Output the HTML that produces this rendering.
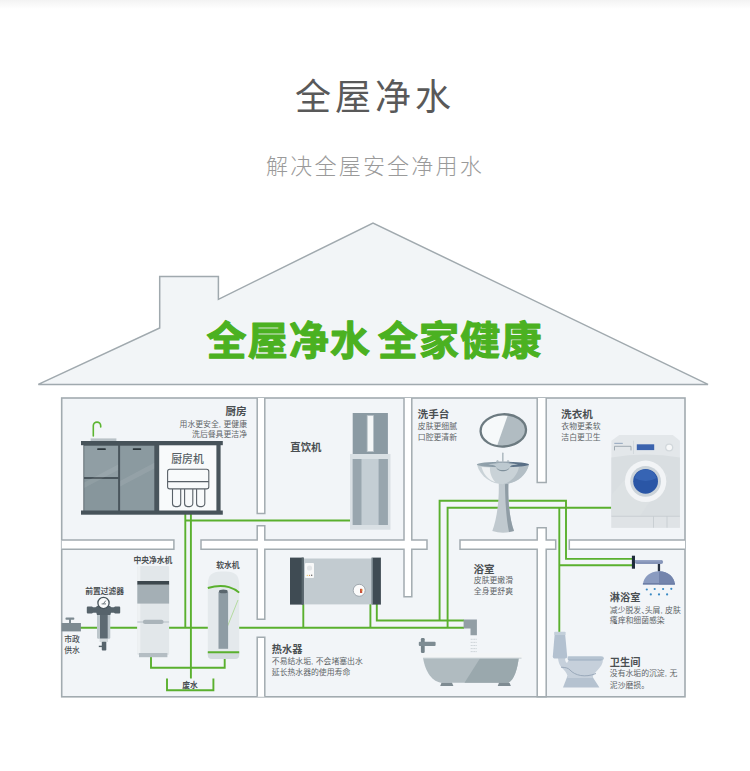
<!DOCTYPE html>
<html lang="zh-CN">
<head>
<meta charset="utf-8">
<title>全屋净水</title>
<style>
html,body{margin:0;padding:0;background:#fff;}
body{width:750px;height:771px;overflow:hidden;position:relative;font-family:"Liberation Sans","Noto Sans CJK SC",sans-serif;}
svg{position:absolute;left:0;top:0;display:block;}
text{font-family:"Liberation Sans","Noto Sans CJK SC",sans-serif;}
.h{font-weight:700;font-size:10.2px;fill:#4a4f52;}
.s{font-weight:400;font-size:7.85px;fill:#5f6568;}
.m{font-weight:500;font-size:7.8px;fill:#4a4f52;}
.b{font-weight:700;font-size:7.8px;fill:#4a4f52;}
.g{fill:none;stroke:#5ab02e;stroke-width:1.9;}
.w{fill:#fff;stroke:#a2abb0;stroke-width:1.5;}
</style>
</head>
<body>
<svg width="750" height="771" viewBox="0 0 750 771">
<defs>
<linearGradient id="topg" x1="0" y1="0" x2="0" y2="1"><stop offset="0" stop-color="#f3f3f3"/><stop offset="1" stop-color="#ffffff"/></linearGradient>
</defs>
<rect x="0" y="0" width="750" height="9" fill="url(#topg)"/>

<!-- headings -->
<text x="373" y="109.7" text-anchor="middle" font-size="36" font-weight="400" fill="#595959" letter-spacing="4" dx="2">全屋净水</text>
<text x="374" y="173.7" text-anchor="middle" font-size="22" font-weight="300" fill="#9a9a9a" letter-spacing="2.2" dx="1">解决全屋安全净用水</text>

<!-- roof -->
<path d="M38.3 384.4 L159.7 328 V276.4 H218.4 V299.3 L373 223 L708 384.4 Z" fill="#f2f5f7" stroke="#a0a9ae" stroke-width="1.5" stroke-linejoin="miter"/>
<text x="206.5" y="355" font-size="40" font-weight="700" fill="#4bb121" stroke="#4bb121" stroke-width="1.1" stroke-linejoin="round" letter-spacing="1.2">全屋净水</text>
<text x="377.8" y="355" font-size="40" font-weight="700" fill="#4bb121" stroke="#4bb121" stroke-width="1.1" stroke-linejoin="round" letter-spacing="1.2">全家健康</text>

<!-- house body -->
<rect x="61.7" y="398" width="623.3" height="298.8" fill="#f2f5f8" stroke="#a2abb0" stroke-width="1.6"/>

<!-- walls -->
<g class="w">
<path d="M257.2 398 V513.5 H264.8 V398"/>
<path d="M537.2 398 V482.6 H546.2 V398"/>
<path d="M61.7 540.1 H173.9 V549.2 H61.7"/>
<path d="M404 398 V540.1 H264.8 V525.8 H257.2 V540.1 H201 V549.2 H257.2 V619.3 H264.8 V549.2 H404 V596.8 H411.8 V549.2 H427 V540.1 H411.8 V398"/>
<path d="M460 540.1 H537.2 V527.7 H546.2 V540.1 H555.7 V549.2 H546.2 V696.8 H537.2 V549.2 H460 Z"/>
<path d="M685 540.1 H569.3 V549.2 H685"/>
<path d="M257.2 696.8 V637.3 H264.8 V696.8"/>
</g>

<!-- ===== green pipes (under devices) ===== -->
<g class="g">
<path d="M80 627.7 H464"/>
<path d="M185.3 514 V627.7"/>
<path d="M190.9 514 V678.5"/>
<path d="M185.3 520.5 H350"/>
<path d="M151 656 V667.7 H224.7 V658"/>
<path d="M167 678.6 V690.3 H213.4 V678.6"/>
<path d="M303.3 604 V627.7"/>
<path d="M370.4 604 V627.7"/>
<path d="M376.8 604 V620.5 H464"/>
<path d="M439.6 620.5 V500.8 H566 V558.9 H632"/>
<path d="M447.6 627.7 V507.7 H611.5"/>
<path d="M559.3 507.7 V632"/>
<path d="M559.3 565.3 H632"/>
</g>

<!-- ===== kitchen cabinet ===== -->
<g>
<rect x="90.6" y="438.4" width="25.8" height="3" fill="#b9c2c7"/>
<path d="M93.3 436 V425.8 a3.7 3.7 0 0 1 7.4 0 V427" fill="none" stroke="#5cb531" stroke-width="1.6" stroke-linecap="round"/>
<rect x="83.4" y="443" width="137.2" height="69" fill="#49555c"/>
<rect x="81" y="441" width="141.8" height="4.2" fill="#47535a"/>
<rect x="81" y="510.5" width="141.8" height="4.2" fill="#47535a"/>
<rect x="84.2" y="445.7" width="33.9" height="31.3" fill="#909ea4"/>
<rect x="84.2" y="479" width="33.9" height="31.5" fill="#87969c"/>
<rect x="120.1" y="445.7" width="34.2" height="64.8" fill="#8b9aa0"/>
<path d="M84.2 482.5 L118.1 464.5 V470 L84.2 488 Z M120.1 481 L154.3 462.8 V468.4 L120.1 486.6 Z" fill="#fff" opacity="0.08"/>
<rect x="97.2" y="448.2" width="8.6" height="1.9" rx="0.6" fill="#2b363b"/>
<rect x="132.8" y="448.2" width="8.4" height="1.9" rx="0.6" fill="#2b363b"/>
<rect x="159.2" y="445.3" width="57.2" height="65.2" fill="#f8fafb"/>
<!-- kitchen machine icon -->
<g fill="none" stroke="#596168" stroke-width="1.1">
<rect x="167.6" y="469.3" width="41.2" height="19.6" rx="2.2"/>
<path d="M167.6 481.6 H208.8"/>
<path d="M172.5 489 V503.6 a3 3 0 0 0 3 3 h2.2 a3 3 0 0 0 3 -3 V489"/>
<path d="M184.6 489 V503.6 a3 3 0 0 0 3 3 h2.2 a3 3 0 0 0 3 -3 V489"/>
<path d="M196.6 489 V503.6 a3 3 0 0 0 3 3 h2.2 a3 3 0 0 0 3 -3 V489"/>
</g>
<text x="171.3" y="463.4" font-size="10.8" font-weight="500" fill="#575f65">厨房机</text>
</g>
<text class="h" x="246.6" y="415.2" text-anchor="end" style="font-size:10.6px">厨房</text>
<text class="s" x="247" y="426.6" text-anchor="end">用水更安全,<tspan dx="2.5">更健康</tspan></text>
<text class="s" x="247" y="436.8" text-anchor="end">洗后餐具更洁净</text>

<!-- ===== direct drinking machine ===== -->
<g>
<rect x="350" y="454" width="40.5" height="75.7" fill="#d9e0e4"/>
<rect x="352.7" y="413" width="35.2" height="41" fill="#8b9aa3"/>
<rect x="367.2" y="415.6" width="6.2" height="36" fill="#f4f6f7" stroke="#b9c3c9" stroke-width="0.8"/>
<rect x="352.7" y="459" width="35.2" height="66" fill="#c4ced4"/>
<rect x="352.7" y="459" width="8.8" height="66" fill="#98a6ae"/>
<rect x="378.6" y="459" width="9.3" height="66" fill="#98a6ae"/>
</g>
<text x="290.3" y="451" font-size="10.4" font-weight="700" fill="#4a4f52">直饮机</text>

<!-- ===== wash basin ===== -->
<text class="h" x="417.6" y="418.4" style="font-size:10.6px">洗手台</text>
<text class="s" x="417.8" y="429.3">皮肤更细腻</text>
<text class="s" x="417.8" y="439.8">口腔更清新</text>
<g>
<g transform="rotate(-3 503.3 430.4)">
<ellipse cx="503.3" cy="430.4" rx="22.7" ry="16.1" fill="#f6f9fa"/>
<clipPath id="mir"><ellipse cx="503.3" cy="430.4" rx="22.7" ry="16.1"/></clipPath>
<path d="M510 412 L495.2 448 L530 448 L530 412 Z" fill="#b1bcc2" clip-path="url(#mir)"/>
<ellipse cx="503.3" cy="430.4" rx="22.7" ry="16.1" fill="none" stroke="#6c7a80" stroke-width="2.3"/>
</g>
<!-- pedestal -->
<path d="M498.6 478 C499.6 500 497 518 492.3 531 Q503 534.5 514 531 C509.5 518 507.5 500 508.6 478 Z" fill="#c0c9cf"/>
<path d="M504.8 478 C505.2 500 506 518 509 532 L514 531 C509.5 518 507.5 500 508.6 478 Z" fill="#8f9ca5"/>
<!-- bowl -->
<path d="M477 464.5 C480 477 492 484.2 503 484.2 C514 484.2 526 477 529 464.5 Z" fill="#c9d2d7"/>
<path d="M503 484.2 C514 484.2 526 477 529 464.5 L519 467 C517 476 511 482 503 484.2 Z" fill="#b3bec5"/>
<path d="M481.5 467 C484 475.5 489 480 495.5 482.3 C491 477.5 489.5 471 490 467.5 Z" fill="#eef1f3"/>
<linearGradient id="bt" x1="0" y1="0" x2="1" y2="0"><stop offset="0" stop-color="#94a4ad"/><stop offset="0.55" stop-color="#8496a3"/><stop offset="0.7" stop-color="#5d7389"/><stop offset="1" stop-color="#566c84"/></linearGradient>
<ellipse cx="502.9" cy="464.5" rx="26.1" ry="2.7" fill="url(#bt)"/>
<path d="M488 464.8 C493 464.2 495.3 465.2 496.3 467.2 C498 471 508 471 509.7 467.2 C510.7 465.2 513 464.4 518 464.8 C516 463.6 508 463 503 463 C498 463 490 463.6 488 464.8 Z" fill="#bdc9d0"/>
<path d="M496.3 467.2 C498 471 508 471 509.7 467.2 C508.6 472.6 497.4 472.6 496.3 467.2 Z" fill="#7f909b"/>
<rect x="502" y="452.6" width="1.6" height="9.8" rx="0.7" fill="#b1bcc3"/>
<path d="M496 462.6 Q496 460 497.6 460 Q498.6 460 498.8 461.6 H506.8 Q507 460 508 460 Q509.6 460 509.6 462.6 Z" fill="#b1bcc3"/>
</g>

<!-- ===== washing machine ===== -->
<text class="h" x="561.1" y="418.4" style="font-size:10.6px">洗衣机</text>
<text class="s" x="561.3" y="429.3">衣物更柔软</text>
<text class="s" x="561.3" y="439.8">洁白更卫生</text>
<g>
<path d="M611.4 440.7 L619.3 435 H672.8 L679.9 440.7 V527.7 H611.4 Z" fill="#e3e7ea"/>
<path d="M611.4 457.5 Q645.6 451.5 679.9 457.5 V516 H611.4 Z" fill="#d9dee1"/>
<path d="M611.4 495 L640 462 L668 475 L640 516 H611.4 Z" fill="#dde2e5" opacity="0.6"/>
<rect x="611.4" y="516.3" width="68.5" height="11.4" fill="#dfe3e6"/>
<path d="M611.4 516.3 H679.9 M653.5 516.3 V527.7 M667 516.3 V527.7" stroke="#c3cace" stroke-width="0.8" fill="none"/>
<path d="M633.5 440.7 V454" stroke="#cfd5d9" stroke-width="0.8"/>
<path d="M614.5 450.4 V446.3 H631 V450.4" fill="none" stroke="#98a4ac" stroke-width="0.9"/>
<rect x="614.3" y="442.8" width="8.5" height="1.2" fill="#9fb0c4"/>
<rect x="636.8" y="444.3" width="17.4" height="5.8" fill="#3b63ae"/>
<circle cx="669.2" cy="447.5" r="4.1" fill="#d2d8dc"/>
<circle cx="669.2" cy="447.5" r="2.8" fill="#f7f8f9"/>
<circle cx="645.6" cy="481.3" r="20.7" fill="#f2f4f6"/>
<circle cx="645.6" cy="481.3" r="15.4" fill="#cbd3d9"/>
<circle cx="645.6" cy="481.3" r="12.4" fill="#2a56a6"/>
<path d="M634.5 478 A11.5 11.5 0 0 1 656.7 478 Q645.6 484 634.5 478 Z" fill="#3a68b8" opacity="0.8"/>
</g>

<!-- ===== municipal tap ===== -->
<g fill="#7d8a91">
<rect x="61.6" y="623" width="19.3" height="8.4"/>
<rect x="65.5" y="617.4" width="8.8" height="2.3" rx="0.8"/>
<rect x="69" y="619" width="2" height="4.5"/>
</g>
<text class="m" x="64.2" y="642">市政</text>
<text class="m" x="64.2" y="652.6">供水</text>

<!-- ===== pre-filter ===== -->
<text class="b" x="85.2" y="594.4">前置过滤器</text>
<g>
<path d="M97 613 H110.3 V637.5 Q110.3 638.8 109 638.8 H98.3 Q97 638.8 97 637.5 Z" fill="#bcc6cb"/>
<rect x="100" y="612" width="7.7" height="26.8" fill="#5d6a72"/>
<rect x="99.6" y="638.6" width="8.4" height="3.4" fill="#d3dadd"/>
<rect x="101.8" y="641.7" width="4.5" height="8.8" rx="0.8" fill="#56636b"/>
<rect x="98.8" y="645.7" width="3.4" height="1.4" fill="#56636b"/>
<path d="M86.8 607.6 Q86.8 606.6 87.8 606.6 H92 L93 607.2 H95.5 L97.5 605.8 H109.5 L111.5 607.2 H114 L115 606.6 H119.2 Q120.2 606.6 120.2 607.6 V612.4 Q120.2 613.4 119.2 613.4 H115 L114 612.8 H111 L110.3 615 H97 L96.3 612.8 H93 L92 613.4 H87.8 Q86.8 613.4 86.8 612.4 Z" fill="#56636b"/>
<circle cx="103.5" cy="603" r="5.6" fill="#fafbfb" stroke="#47535a" stroke-width="1.3"/>
<path d="M103.5 603.6 L105.8 600.6 M101.6 603.9 H106" stroke="#47535a" stroke-width="0.8" fill="none"/>
</g>

<!-- ===== central purifier ===== -->
<text class="b" x="133.4" y="562.8">中央净水机</text>
<g>
<rect x="137.3" y="566" width="31.8" height="89" rx="1.2" fill="#e2e7ea"/>
<rect x="137.3" y="566" width="3" height="87" fill="#eef1f3"/>
<rect x="139" y="653" width="28.4" height="4.2" fill="#b4bdc3"/>
<rect x="137.3" y="581" width="31.8" height="3.8" fill="#3c474d"/>
<rect x="137.3" y="584.8" width="31.8" height="18.8" fill="#a4afb5"/>
<rect x="137.3" y="621.3" width="31.8" height="1.4" fill="#c3cbd0"/>
<rect x="142.9" y="619.8" width="20.7" height="4.3" rx="2.1" fill="#aab4ba"/>
</g>

<!-- ===== softener ===== -->
<text class="b" x="216.2" y="568.4">软水机</text>
<g>
<path d="M207.8 584 Q207.8 571.6 221 571.6 H226 Q239.2 571.6 239.2 584 V655 Q239.2 659.1 235 659.1 H212 Q207.8 659.1 207.8 655 Z" fill="#e4e9ec"/>
<path d="M207.8 652.2 H239.2 V655 Q239.2 659.1 235 659.1 H212 Q207.8 659.1 207.8 655 Z" fill="#d3dade"/>
<path d="M238 600 L220 645" stroke="#b5dba0" stroke-width="1" fill="none"/>
<rect x="218.5" y="592" width="9.6" height="56.8" fill="#8e9ca4"/>
<ellipse cx="223.3" cy="591.4" rx="4.4" ry="1.9" fill="#59666d"/>
<path d="M207.8 588 Q220 584.5 229 587.2 Q235.5 589.2 239.2 592.6" class="g" stroke-width="1.4"/>
<path d="M207.8 652.2 H239.2" class="g" stroke-width="1.4"/>
</g>
<text class="b" x="182.3" y="687.6">废水</text>

<!-- ===== water heater ===== -->
<g>
<rect x="303" y="558.5" width="70" height="45.9" fill="#c2cbd0"/>
<rect x="290" y="557.6" width="13.6" height="47" fill="#3f4b53"/>
<rect x="301.6" y="557.6" width="2.2" height="47" fill="#59666d"/>
<rect x="372.6" y="557.6" width="8.3" height="47" fill="#3f4b53"/>
<rect x="371.4" y="557.6" width="1.6" height="47" fill="#7a878e"/>
<rect x="305" y="563" width="9" height="14.9" rx="1" fill="#f7f8f8"/>
<circle cx="309.5" cy="568" r="2.6" fill="#e3e6e8"/>
<circle cx="307.3" cy="575.3" r="0.6" fill="#e5c24a"/><circle cx="309.5" cy="575.3" r="0.6" fill="#e08a3a"/><circle cx="311.7" cy="575.3" r="0.7" fill="#555"/>
<circle cx="359.2" cy="590.3" r="6" fill="#fbfbfb" stroke="#98a2a8" stroke-width="0.9"/>
<rect x="360" y="588.8" width="2.2" height="4.2" fill="#c8503a"/>
<rect x="361.6" y="589.4" width="1" height="1.4" fill="#f0c040"/>
</g>
<text class="h" x="271.8" y="653.4">热水器</text>
<text class="s" x="271.8" y="664.4">不易结水垢,<tspan dx="2.5">不会堵塞出水</tspan></text>
<text class="s" x="271.8" y="675">延长热水器的使用寿命</text>

<!-- ===== bathroom ===== -->
<text class="h" x="473.6" y="572.6" style="font-size:10.5px">浴室</text>
<text class="s" x="473.8" y="583.4">皮肤更嫩滑</text>
<text class="s" x="473.8" y="594">全身更舒爽</text>
<g>
<path d="M463.6 619.6 H476.9 V635.3 H470.5 V628.4 H463.6 Z" fill="#929ea5"/>
<path d="M470.7 639.3 H476.7 M470.7 642.4 H476.7 M470.7 645.5 H476.7 M470.7 648.6 H476.7 M470.7 651.6 H476.7" stroke="#c5cdd1" stroke-width="0.9" stroke-dasharray="1.2 0.5"/>
<rect x="420.9" y="638" width="3.8" height="15" rx="1.2" fill="#75838a"/>
<rect x="418.8" y="641.7" width="16.8" height="4.2" rx="1" fill="#7e8c93"/>
<path d="M423 657.5 C424.5 668 430 681 441 682.8 H508 C514 681 517.6 668 518.8 657.5 Z" fill="#b0bbc0"/>
<path d="M480.5 657.5 L464.5 682.8 H508 C514 681 517.6 668 518.8 657.5 Z" fill="#9aa8ad"/>
<path d="M421.5 655.2 Q421.5 652.9 424 652.9 H520.4 Q522.9 652.9 522.9 655.2 Q522.9 658 520.4 658 H424 Q421.5 658 421.5 655.2 Z" fill="#f3f5f6"/>
<path d="M423 657.5 H521.5 V659 H423.4 Z" fill="#c9d1d5" opacity="0.7"/>
<path d="M441.5 682.8 H452 L453.4 686 H440.2 Z M499 682.8 H509.5 L510.9 686 H497.7 Z" fill="#7e8b92"/>
</g>

<!-- ===== shower ===== -->
<g>
<rect x="631.9" y="555.7" width="3.1" height="13" fill="#1f2b3d"/>
<rect x="634.9" y="560" width="28.2" height="4.1" rx="2" fill="#8594b8"/>
<rect x="634.9" y="560" width="26" height="1.5" fill="#97a5c6"/>
<rect x="657.8" y="564" width="2.3" height="7.6" fill="#252f3f"/>
<path d="M642.9 584.6 C643.5 577 650 571.3 659 571.3 C668 571.3 674.3 577 674.9 584.6 Z" fill="#8a9bc0"/>
<path d="M659 571.3 C668 571.3 674.3 577 674.9 584.6 H659 Z" fill="#7384ac"/>
<path d="M642.9 583 H674.9 V584.6 H642.9 Z" fill="#6d7ea6"/>
<g fill="#3a8ac4">
<circle cx="646.8" cy="589.5" r="1.1"/><circle cx="654.7" cy="589" r="1.1"/><circle cx="663.1" cy="589" r="1.1"/><circle cx="671.3" cy="588.8" r="1.1"/>
<circle cx="650.8" cy="594.4" r="1.1"/><circle cx="659" cy="594.4" r="1.1"/><circle cx="667.1" cy="594.4" r="1.1"/>
</g>
</g>
<text class="h" x="609.8" y="601.2">淋浴室</text>
<text class="s" x="609.8" y="612.6">减少脱发、<tspan dx="-4.3">头屑</tspan>,<tspan dx="2.5">皮肤</tspan></text>
<text class="s" x="609.8" y="623.2">瘙痒和细菌感染</text>

<!-- ===== toilet ===== -->
<g>
<path d="M563 687.6 L567.5 676 H592 L599.4 687.6 Z" fill="#b5c2d0"/>
<path d="M558 658 C558.5 664 561 667 564 670 C566 672 568 675 567.5 678 H592.5 C593 672 603 668 603 659.5 H569 L567 663 Q565 662 565 658 Z" fill="#c6d0db"/>
<path d="M561 667.2 C566 667.4 568 668 570 670 C575 675.5 585 678 596 673.5" fill="none" stroke="#94a4b5" stroke-width="0.9"/>
<path d="M567.6 657.6 Q567.6 656.2 569 656.2 H601 Q603.8 656.2 603.8 658.3 Q603.8 660.3 601 660.3 H569 Q567.6 660.3 567.6 659 Z" fill="#b5c3d1"/>
<path d="M568 659.4 H602.5 L601 660.4 H569 Z" fill="#9fb0c1"/>
<path d="M554.6 635 H565.2 L567.2 656.5 Q567.2 658.4 565.4 658.4 H554.4 Q552.8 658.4 552.8 656.5 Z" fill="#b3c1d0"/>
<path d="M554.2 632.6 Q554.2 631.7 555.2 631.7 H564.6 Q565.6 631.7 565.6 632.6 V635 H554.2 Z" fill="#c3cfda"/>
</g>
<text class="h" x="609.8" y="666">卫生间</text>
<text class="s" x="609.8" y="676.4">没有水垢的沉淀,<tspan dx="2.5">无</tspan></text>
<text class="s" x="609.8" y="687.6">泥沙磨损。</text>
</svg>
</body>
</html>
